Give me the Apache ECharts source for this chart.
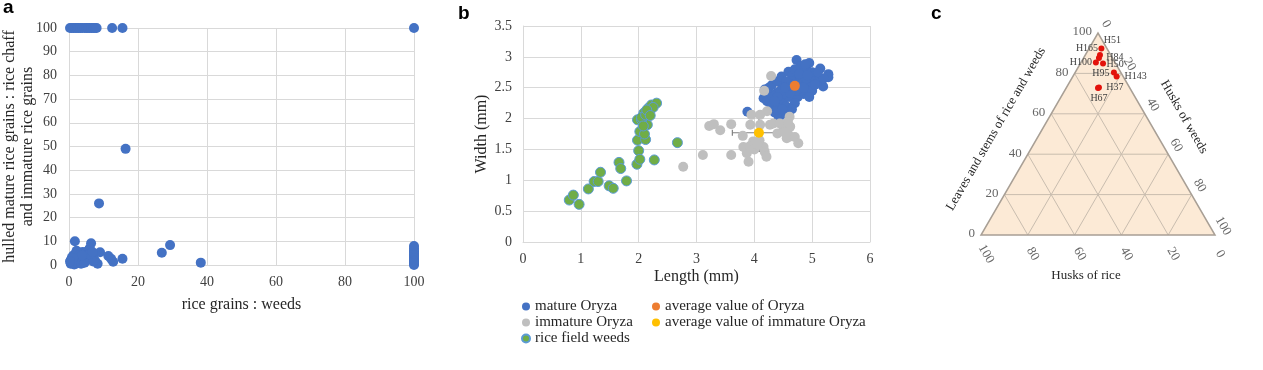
<!DOCTYPE html>
<html><head><meta charset="utf-8">
<script src="https://cdn.jsdelivr.net/npm/echarts@6/dist/echarts.min.js"></script>
<style>html,body{margin:0;padding:0;background:#fff}#c{width:1263px;height:370px}</style>
</head><body><div id="c"></div>
<script>
// ---------- Panel a: rice grains : weeds  vs  hulled mature : chaff+immature ----------
const aPoints = [
  [0.3,100],[0.8,100],[1.3,100],[1.8,100],[2.3,100],[2.8,100],[3.3,100],[3.8,100],[4.5,100],[5,100],[5.5,100],[6,100],[6.5,100],[7,100],[7.5,100],[8,100],[12.5,100],[15.5,100],[100,100],
  [16.4,49],[8.7,26],
  [1.7,10],[6.4,9.2],[29.3,8.4],[26.9,5.2],[38.2,1],[15.5,2.6],[12.8,1.4],[12.2,2.6],[11.4,3.8],[9,5.4],[8.3,0.5],
  [7.5,2],[7,3.5],[6.5,5],[6,7],[5.5,6],[5,2],[4.5,4.5],[4,5.5],[3.5,3],[3,5.2],[3,1],[2.5,3.5],[2,5],[2,0.5],
  [1.5,2.5],[1.2,4],[1,1],[0.8,3],[0.5,0.5],[0.5,2],[1.5,0.2],[2.5,0.8],[3.5,0.5],[4,2],[4.5,1],[5,4],[6,3],[7,1.5],
  [5.8,4.5],[6.8,5.5],[2.2,6],[2.8,4],[3.8,4],[1.2,3],[0.3,1.5],
  [100,0],[100,0.5],[100,1],[100,1.5],[100,2],[100,2.5],[100,3],[100,3.5],[100,4],[100,4.5],[100,5],[100,5.5],[100,6],[100,7],[100,8]
];

// ---------- Panel b: grain length / width (mm) ----------
const bMature = [
  [3.88,2.11],[4.18,2.47],[4.16,2.33],[4.22,2.28],[4.3,2.2],[4.35,2.1],[4.42,2.03],[4.39,2.14],[4.45,2.25],[4.5,2.3],
  [4.55,2.2],[4.6,2.35],[4.5,2.4],[4.4,2.42],[4.3,2.38],[4.25,2.5],[4.3,2.54],[4.4,2.6],[4.47,2.68],[4.59,2.76],
  [4.65,2.7],[4.7,2.8],[4.73,2.95],[4.8,2.85],[4.85,2.75],[4.9,2.8],[4.95,2.9],[5.0,2.75],[5.05,2.7],[5.14,2.81],
  [5.28,2.72],[5.28,2.67],[5.19,2.52],[5.1,2.6],[5.0,2.6],[4.95,2.5],[4.9,2.45],[4.85,2.4],[4.75,2.35],[4.7,2.25],
  [4.65,2.15],[4.6,2.1],[4.55,2.05],[4.8,2.55],[4.85,2.6],[4.75,2.65],[4.65,2.6],[4.6,2.5],[4.55,2.6],[4.5,2.5],
  [4.45,2.45],[4.8,2.45],[5.0,2.45],[4.9,2.65],[5.05,2.55],[4.95,2.35],[4.72,2.45],[4.62,2.42],[4.68,2.55],[4.78,2.72],
  [4.88,2.88],[4.4,2.35],[4.35,2.28],[4.48,2.15],[4.53,2.5],[4.85,2.5],[5.2,2.65],[5.1,2.75],[4.92,2.7]
];
const bImmature = [
  [2.77,1.22],[3.11,1.41],[3.22,1.88],[3.30,1.91],[3.41,1.81],[3.60,1.91],[3.60,1.41],[3.80,1.72],[3.81,1.54],[3.87,1.44],
  [3.90,1.30],[3.93,1.90],[3.95,2.06],[3.98,1.63],[4.10,1.90],[4.16,1.54],[4.18,1.46],[4.21,1.38],[4.22,2.12],[4.17,2.45],
  [4.29,2.69],[4.27,1.90],[4.33,1.92],[4.44,1.92],[4.50,1.87],[4.59,1.84],[4.61,2.03],[4.56,1.68],[4.62,1.71],[4.70,1.70],
  [4.76,1.60],[4.62,1.87],[4.40,1.76],[4.10,2.06],[4.09,1.65],[3.92,1.55],[4.00,1.50],[4.52,1.78],[4.58,1.95],[4.05,1.58]
];
const bWeeds = [
  [0.80,0.68],[0.87,0.76],[0.97,0.61],[1.13,0.86],[1.23,0.98],[1.30,0.98],[1.34,1.13],[1.49,0.91],[1.56,0.87],[1.66,1.29],
  [1.69,1.19],[1.79,0.99],[1.97,1.26],[2.00,1.48],[2.02,1.34],[1.98,1.65],[2.12,1.66],[2.02,1.79],[2.15,1.90],[1.98,1.98],
  [2.05,1.98],[2.09,2.09],[2.17,2.17],[2.22,2.22],[2.31,2.25],[2.27,1.33],[2.67,1.61],[2.05,2.02],[2.12,2.06],[2.18,2.12],
  [2.25,2.18],[2.10,1.75],[2.08,1.88],[2.14,2.14],[2.20,2.05]
];
const bAvgMature = [4.70, 2.53];
const bAvgMatureErr = [0.29, 0.2];
const bAvgImmature = [4.08, 1.77];
const bAvgImmatureErr = [0.46, 0.3];

// ---------- Panel c: ternary plot ----------
const cTicks = [0, 20, 40, 60, 80, 100];
const cNames = ['H51','H165','H84','H100','H50','H95','H143','H37','H67'];
const cLeaves = [92.3, 89.1, 87.6, 85.4, 84.9, 80.4, 78.5, 73.0, 72.8];      // leaves and stems of rice and weeds
const cHusksWeeds = [5.3, 6.3, 6.6, 6.4, 9.7, 16.6, 18.7, 13.9, 13.6];       // husks of weeds (husks of rice = remainder)

// layout only (label offsets, px)
const cLabelOffsets = [[11,-8],[-13,-7],[16,-1],[-15,0],[12,1],[-13,1],[19,0],[16,0],[1,10]];

const serif = '"Liberation Serif", "Times New Roman", serif';
const tern = (L, W) => [W + L / 2, L];
// label offsets are applied in the rotated label frame: convert a screen offset for a -60deg label
const rotOff = (dx, dy) => { const c = Math.cos(Math.PI / 3), s = Math.sin(Math.PI / 3); return [dx * c + dy * s, -dx * s + dy * c]; };

function errRender(params, api) {
  const x = api.value(0), y = api.value(1), ex = api.value(2), ey = api.value(3);
  const l = api.coord([x - ex, y]), r = api.coord([x + ex, y]);
  const t = api.coord([x, y + ey]), b = api.coord([x, y - ey]);
  const st = {stroke: '#808080', lineWidth: 1.2};
  const cap = 3;
  const ln = (x1, y1, x2, y2) => ({type: 'line', shape: {x1, y1, x2, y2}, style: st});
  return {type: 'group', children: [
    ln(l[0], l[1], r[0], r[1]), ln(t[0], t[1], b[0], b[1]),
    ln(l[0], l[1] - cap, l[0], l[1] + cap), ln(r[0], r[1] - cap, r[0], r[1] + cap),
    ln(t[0] - cap, t[1], t[0] + cap, t[1]), ln(b[0] - cap, b[1], b[0] + cap, b[1])
  ]};
}

function triRender(params, api) {
  const P = (L, W) => api.coord(tern(L, W));
  const children = [];
  children.push({type: 'polygon', shape: {points: [P(0,0), P(0,100), P(100,0)]}, style: {fill: '#fcead6', stroke: null}});
  const gs = {stroke: '#c9bdaf', lineWidth: 1};
  cTicks.slice(1, -1).forEach(v => {
    let a = P(v, 0), b = P(v, 100 - v);
    children.push({type: 'line', shape: {x1: a[0], y1: a[1], x2: b[0], y2: b[1]}, style: gs});
    a = P(0, v); b = P(100 - v, v);
    children.push({type: 'line', shape: {x1: a[0], y1: a[1], x2: b[0], y2: b[1]}, style: gs});
    a = P(0, 100 - v); b = P(100 - v, 0);
    children.push({type: 'line', shape: {x1: a[0], y1: a[1], x2: b[0], y2: b[1]}, style: gs});
  });
  children.push({type: 'polygon', shape: {points: [P(0,0), P(0,100), P(100,0)]}, style: {fill: null, stroke: '#a89f95', lineWidth: 1.5}});
  return {type: 'group', children};
}

const axLbl = {color: '#404040', fontFamily: serif, fontSize: 14};
const nameStyle = {color: '#262626', fontFamily: serif, fontSize: 16};
const gridLine = {lineStyle: {color: '#d9d9d9', width: 1}};

const chart = echarts.init(document.getElementById('c'), null, {renderer: 'canvas'});
chart.setOption({
  animation: false,
  grid: [
    {left: 69, top: 28, width: 345, height: 237, outerBoundsMode: 'none', containLabel: false},
    {left: 523, top: 26, width: 347, height: 216, outerBoundsMode: 'none', containLabel: false},
    {left: 981, top: 33, width: 234, height: 202, outerBoundsMode: 'none', containLabel: false}
  ],
  xAxis: [
    {gridIndex: 0, type: 'value', min: 0, max: 100, interval: 20,
     axisLine: {show: true, lineStyle: {color: '#d9d9d9'}}, axisTick: {show: false}, splitLine: gridLine,
     axisLabel: Object.assign({margin: 10, fontSize: 14}, axLbl),
     name: 'rice grains : weeds', nameLocation: 'middle', nameGap: 32, nameMoveOverlap: false, nameTextStyle: nameStyle},
    {gridIndex: 1, type: 'value', min: 0, max: 6, interval: 1,
     axisLine: {show: true, lineStyle: {color: '#d9d9d9'}}, axisTick: {show: false}, splitLine: gridLine,
     axisLabel: Object.assign({margin: 10}, axLbl),
     name: 'Length (mm)', nameLocation: 'middle', nameGap: 27, nameMoveOverlap: false, nameTextStyle: nameStyle},
    {gridIndex: 2, type: 'value', min: 0, max: 100, show: false}
  ],
  yAxis: [
    {gridIndex: 0, type: 'value', min: 0, max: 100, interval: 10,
     axisLine: {show: true, lineStyle: {color: '#d9d9d9'}}, axisTick: {show: false}, splitLine: gridLine,
     axisLabel: Object.assign({margin: 12}, axLbl),
     name: 'hulled mature rice grains : rice chaff\nand immature rice grains', nameLocation: 'middle', nameGap: 32, nameMoveOverlap: false,
     nameTextStyle: Object.assign({}, nameStyle, {lineHeight: 18})},
    {gridIndex: 1, type: 'value', min: 0, max: 3.5, interval: 0.5,
     axisLine: {show: true, lineStyle: {color: '#d9d9d9'}}, axisTick: {show: false}, splitLine: gridLine,
     axisLabel: Object.assign({margin: 11}, axLbl),
     name: 'Width (mm)', nameLocation: 'middle', nameGap: 33, nameMoveOverlap: false, nameTextStyle: nameStyle},
    {gridIndex: 2, type: 'value', min: 0, max: 100, show: false}
  ],
  legend: [
    {data: ['mature Oryza', 'immature Oryza', 'rice field weeds'], orient: 'vertical', left: 521, top: 299,
     itemWidth: 8, itemHeight: 8, itemGap: 1, padding: 0, icon: 'circle',
     textStyle: {fontFamily: serif, fontSize: 15, color: '#262626', lineHeight: 15}},
    {data: ['average value of Oryza', 'average value of immature Oryza'], orient: 'vertical', left: 652, top: 299,
     itemWidth: 8, itemHeight: 8, itemGap: 1, padding: 0, icon: 'circle',
     textStyle: {fontFamily: serif, fontSize: 15, color: '#262626', lineHeight: 15}}
  ],
  series: [
    {type: 'scatter', xAxisIndex: 0, yAxisIndex: 0, data: aPoints, symbolSize: 10,
     itemStyle: {color: '#4472c4', opacity: 1}},
    {name: 'avgErrM', type: 'custom', xAxisIndex: 1, yAxisIndex: 1, renderItem: errRender,
     data: [[bAvgMature[0], bAvgMature[1], bAvgMatureErr[0], bAvgMatureErr[1]]], silent: true},
    {name: 'mature Oryza', type: 'scatter', xAxisIndex: 1, yAxisIndex: 1, data: bMature, symbolSize: 10,
     itemStyle: {color: '#4472c4', opacity: 1}},
    {name: 'immature Oryza', type: 'scatter', xAxisIndex: 1, yAxisIndex: 1, data: bImmature, symbolSize: 10,
     itemStyle: {color: '#bfbfbf', opacity: 1}},
    {name: 'avgErrI', type: 'custom', xAxisIndex: 1, yAxisIndex: 1, renderItem: errRender,
     data: [[bAvgImmature[0], bAvgImmature[1], bAvgImmatureErr[0], bAvgImmatureErr[1]]], silent: true},
    {name: 'rice field weeds', type: 'scatter', xAxisIndex: 1, yAxisIndex: 1, data: bWeeds, symbolSize: 10,
     itemStyle: {color: '#70ad47', borderColor: '#5b9bd5', borderWidth: 1, opacity: 1}},
    {name: 'average value of Oryza', type: 'scatter', xAxisIndex: 1, yAxisIndex: 1, data: [bAvgMature], symbolSize: 10,
     itemStyle: {color: '#ed7d31', opacity: 1}},
    {name: 'average value of immature Oryza', type: 'scatter', xAxisIndex: 1, yAxisIndex: 1, data: [bAvgImmature], symbolSize: 10,
     itemStyle: {color: '#ffc000', opacity: 1}},
    // ternary frame
    {type: 'custom', xAxisIndex: 2, yAxisIndex: 2, renderItem: triRender, data: [[0, 0]], silent: true},
    // ternary tick labels: leaves (left edge)
    {type: 'scatter', xAxisIndex: 2, yAxisIndex: 2, symbolSize: 0.01, silent: true,
     data: cTicks.map(v => ({value: tern(v, 0), name: String(v)})),
     label: {show: true, formatter: '{b}', position: 'left', distance: 6, color: '#404040', fontFamily: serif, fontSize: 13, offset: [0, -1]}},
    // husks of weeds (right edge)
    {type: 'scatter', xAxisIndex: 2, yAxisIndex: 2, symbolSize: 0.01, silent: true,
     data: cTicks.map(v => ({value: tern(100 - v, v), name: String(v)})),
     label: {show: true, formatter: '{b}', position: 'inside', offset: rotOff(8, -9), rotate: -60, color: '#404040', fontFamily: serif, fontSize: 13}},
    // husks of rice (bottom edge)
    {type: 'scatter', xAxisIndex: 2, yAxisIndex: 2, symbolSize: 0.01, silent: true,
     data: cTicks.map(v => ({value: tern(0, 100 - v), name: String(v)})),
     label: {show: true, formatter: '{b}', position: 'inside', offset: rotOff(5, 19), rotate: -60, color: '#404040', fontFamily: serif, fontSize: 13}},
    // samples
    {type: 'scatter', xAxisIndex: 2, yAxisIndex: 2, symbolSize: 6,
     itemStyle: {color: '#e3120b', opacity: 1},
     data: cNames.map((n, i) => ({value: tern(cLeaves[i], cHusksWeeds[i]), name: n,
       label: {offset: cLabelOffsets[i]}})),
     label: {show: true, formatter: '{b}', position: 'inside', color: '#404040', fontFamily: serif, fontSize: 10}}
  ],
  graphic: [
    {type: 'text', x: 3, y: 8, style: {text: 'a', font: 'bold 19px "Liberation Sans", Arial, sans-serif', fill: '#000', verticalAlign: 'middle'}},
    {type: 'text', x: 458, y: 14, style: {text: 'b', font: 'bold 19px "Liberation Sans", Arial, sans-serif', fill: '#000', verticalAlign: 'middle'}},
    {type: 'text', x: 931, y: 14, style: {text: 'c', font: 'bold 19px "Liberation Sans", Arial, sans-serif', fill: '#000', verticalAlign: 'middle'}},
    {type: 'text', x: 996, y: 129, rotation: Math.PI / 3, style: {text: 'Leaves and stems of rice and weeds', font: '13px ' + serif, fill: '#262626', align: 'center', verticalAlign: 'middle'}},
    {type: 'text', x: 1184, y: 117, rotation: -Math.PI / 3, style: {text: 'Husks of weeds', font: '13px ' + serif, fill: '#262626', align: 'center', verticalAlign: 'middle'}},
    {type: 'text', x: 1086, y: 276, style: {text: 'Husks of rice', font: '13px ' + serif, fill: '#262626', align: 'center', verticalAlign: 'middle'}}
  ]
});
</script>
</body></html>
